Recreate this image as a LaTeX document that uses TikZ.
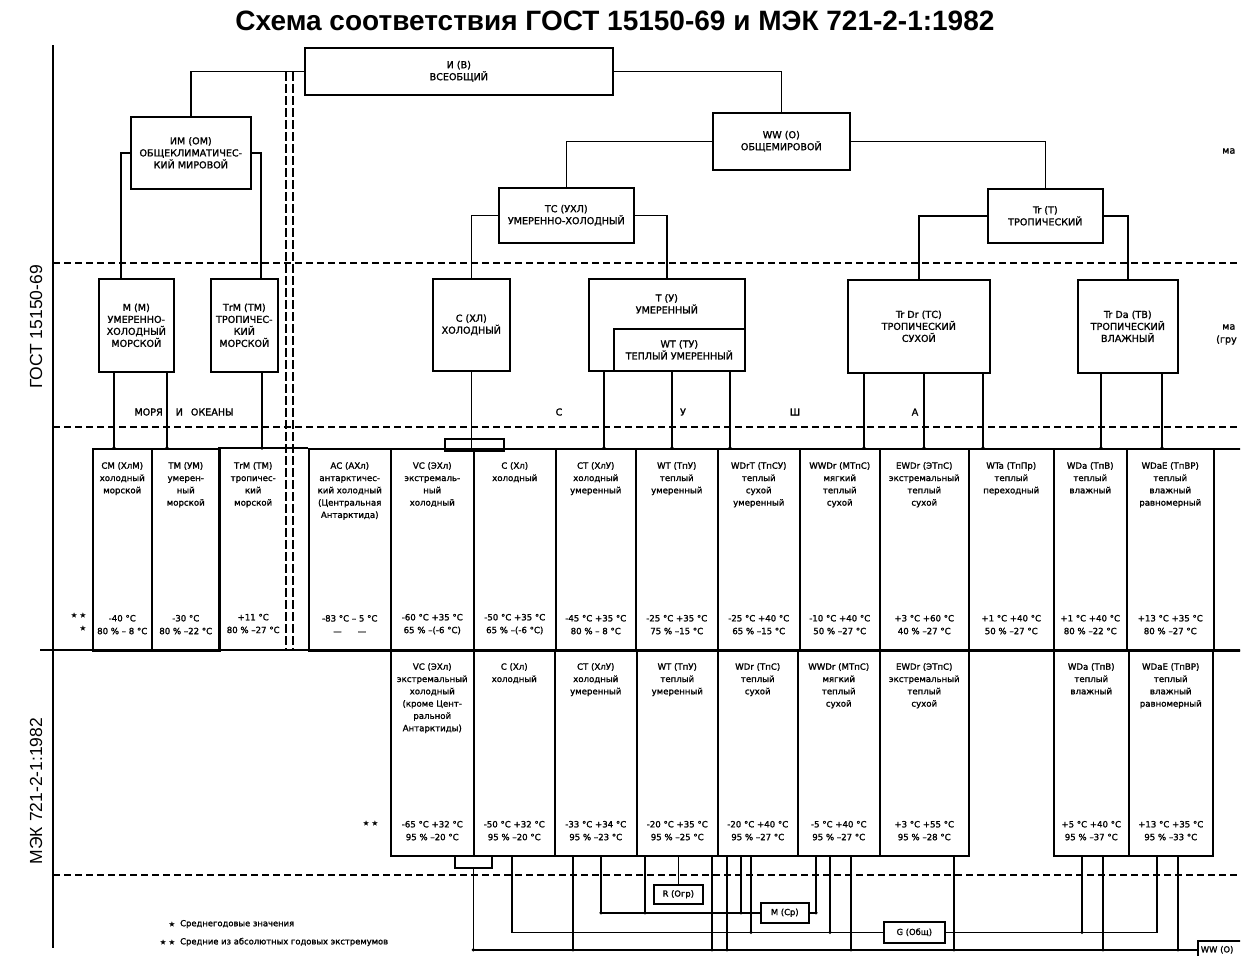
\documentclass[tikz,border=0pt]{standalone}
\usepackage{fontspec}
\setmainfont{DejaVu Sans}[FakeBold=1.5]
\newfontfamily\arialfont{Liberation Sans}
\tikzset{
  box/.style={draw, line width=1.6pt, anchor=north west, inner sep=1pt, align=center,
    font=\fontsize{9.6}{12}\selectfont},
  tinybox/.style={box, font=\fontsize{8.4}{10}\selectfont},
  cellbox/.style={draw, line width=1.5pt, anchor=north west, inner sep=0pt},
  cellbare/.style={anchor=north west, inner sep=0pt},
  cellhead/.style={anchor=north, inner sep=0pt, align=center, font=\fontsize{8.6}{12.3}\selectfont},
  cellval/.style={anchor=south, inner sep=0pt, align=center, font=\fontsize{8.6}{12.8}\selectfont},
  tag/.style={inner sep=0pt, font=\fontsize{9.6}{12}\selectfont},
  starmark/.style={inner sep=0pt, font=\fontsize{6.5}{8}\selectfont},
  wire/.style={line width=1.5pt},
  frame/.style={line width=1.5pt},
  sepdash/.style={line width=1.1pt, dash pattern=on 7pt off 4pt},
  vdash/.style={line width=1.2pt, dash pattern=on 9pt off 3pt},
}

\begin{document}
\begin{tikzpicture}[x=1pt, y=-1pt]
\useasboundingbox (0,0) rectangle (1251,956);
\clip (0,0) rectangle (1240,956);

% title and side captions
\node[font=\arialfont\bfseries\fontsize{28}{32}\selectfont] (title) at (615,21) {Схема соответствия ГОСТ 15150-69 и МЭК 721-2-1:1982};
\node[rotate=90, font=\arialfont\fontsize{17.5}{20}\selectfont] (gost) at (36,327) {ГОСТ 15150-69};
\node[rotate=90, font=\arialfont\fontsize{17.5}{20}\selectfont] (mek) at (36,791) {МЭК 721-2-1:1982};

% frame lines
\draw[frame] (53,45) -- (53,948);
\draw[frame] (40,650) -- (1251,650);
\foreach \yy in {263,427,875}
  \draw[sepdash] (53,\yy) -- (1251,\yy);
\draw[vdash] (286,72) -- (286,650);
\draw[vdash] (293,72) -- (293,650);

% classification boxes (GOST)
\node[box, minimum width=308pt, minimum height=47pt] (iv) at (304,47) {И (В)\\ВСЕОБЩИЙ};
\node[box, minimum width=120pt, minimum height=72pt] (im) at (130,116) {ИМ (ОМ)\\ОБЩЕКЛИМАТИЧЕС-\\КИЙ МИРОВОЙ};
\node[box, minimum width=137pt, minimum height=57pt] (ww) at (712,112) {WW (O)\\ОБЩЕМИРОВОЙ};
\node[box, minimum width=135pt, minimum height=55pt] (tc) at (498,187) {ТС (УХЛ)\\УМЕРЕННО-ХОЛОДНЫЙ};
\node[box, minimum width=115pt, minimum height=54pt] (tr) at (987,188) {Tr (T)\\ТРОПИЧЕСКИЙ};
\node[box, minimum width=75pt, minimum height=93pt] (mm) at (98,278) {М (М)\\УМЕРЕННО-\\ХОЛОДНЫЙ\\МОРСКОЙ};
\node[box, minimum width=67pt, minimum height=93pt] (trm) at (210,278) {ТrМ (ТМ)\\ТРОПИЧЕС-\\КИЙ\\МОРСКОЙ};
\node[box, minimum width=77pt, minimum height=92pt] (cxl) at (432,278) {С (ХЛ)\\ХОЛОДНЫЙ};
\node[box, minimum width=156pt, minimum height=92pt] (tu) at (588,278) {};
\node[tag, anchor=north, align=center] (tutxt) at ([yshift=-16pt]tu.north) {Т (У)\\УМЕРЕННЫЙ};
\node[box, minimum width=131pt, minimum height=42pt] (wt) at (613,328) {WT (ТУ)\\ТЕПЛЫЙ УМЕРЕННЫЙ};
\node[box, minimum width=142pt, minimum height=93pt] (trdr) at (847,279) {Tr Dr (ТС)\\ТРОПИЧЕСКИЙ\\СУХОЙ};
\node[box, minimum width=100pt, minimum height=93pt] (trda) at (1077,279) {Tr Da (ТВ)\\ТРОПИЧЕСКИЙ\\ВЛАЖНЫЙ};
\node[tag, anchor=west] (frag1) at (1222,151) {ма};
\node[tag, anchor=west] (frag2) at (1222,327) {ма};
\node[tag, anchor=west] (frag3) at (1216,340) {(гру};

\draw[wire] (iv.west) -| (im.north);
\draw[wire] (iv.east) -| (ww.north);
\draw[wire] (im.west) -| ([xshift=23pt]mm.north west);
\draw[wire] (im.east) -| ([xshift=51pt]trm.north west);
\draw[wire] (ww.west) -| (tc.north);
\draw[wire] (ww.east) -| (tr.north);
\draw[wire] (tc.west) -| (cxl.north);
\draw[wire] (tc.east) -| (tu.north);
\draw[wire] (tr.west) -| (trdr.north);
\draw[wire] (tr.east) -| (trda.north);

% zone letters
\node[tag] (seas) at (184,412) {МОРЯ\hspace{13pt}И\hspace{8pt}ОКЕАНЫ};
\node[tag] (zs) at (559,412) {С};
\node[tag] (zu) at (683,412) {У};
\node[tag] (zsh) at (795,412) {Ш};
\node[tag] (za) at (915,412) {А};

% GOST table
\foreach \nm/\xl/\cw/\ctxt/\cval in {
  g1/92/59/{СМ (ХлМ)\\холодный\\морской}/{-40 °С\\80 \% – 8 °С},
  g2/151/68/{ТМ (УМ)\\умерен-\\ный\\морской}/{-30 °С\\80 \% –22 °С},
  g4/308/82/{АС (АХл)\\антарктичес-\\кий холодный\\(Центральная\\Антарктида)}/{-83 °С – 5 °С\\—\hspace{16pt}—},
  g5/390/83/{VC (ЭХл)\\экстремаль-\\ный\\холодный}/{-60 °С +35 °С\\65 \% –(-6 °С)},
  g6/473/82/{С (Хл)\\холодный}/{-50 °С +35 °С\\65 \% –(-6 °С)},
  g7/555/80/{СТ (ХлУ)\\холодный\\умеренный}/{-45 °С +35 °С\\80 \% – 8 °С},
  g8/635/82/{WT (ТпУ)\\теплый\\умеренный}/{-25 °С +35 °С\\75 \% –15 °С},
  g9/717/82/{WDrT (ТпСУ)\\теплый\\сухой\\умеренный}/{-25 °С +40 °С\\65 \% –15 °С},
  g10/799/80/{WWDr (МТпС)\\мягкий\\теплый\\сухой}/{-10 °С +40 °С\\50 \% –27 °С},
  g11/879/89/{EWDr (ЭТпС)\\экстремальный\\теплый\\сухой}/{+3 °С +60 °С\\40 \% –27 °С},
  g12/968/85/{WTa (ТпПр)\\теплый\\переходный}/{+1 °С +40 °С\\50 \% –27 °С},
  g13/1053/73/{WDa (ТпВ)\\теплый\\влажный}/{+1 °С +40 °С\\80 \% –22 °С},
  g14/1126/87/{WDaE (ТпВР)\\теплый\\влажный\\равномерный}/{+13 °С +35 °С\\80 \% –27 °С},
  g15/1213/50/{}/{}}{
  \node[cellbox, minimum width=\cw pt, minimum height=202pt] (\nm) at (\xl,448) {};
  \node[cellhead] (\nm-h) at ([yshift=-14pt]\nm.north) {\ctxt};
  \node[cellval] (\nm-v) at ([yshift=17pt]\nm.south) {\cval};
}
\node[cellbare, minimum width=68pt, minimum height=202pt] (g3) at (219,448) {};
\draw[frame] (g3.north east) -- (g3.north west) -- (g3.south west) -- (g3.south east);
\draw[frame] (g3.north east) -- (g4.north west);
\node[cellhead] (g3-h) at ([yshift=-14pt]g3.north) {ТrМ (ТМ)\\тропичес-\\кий\\морской};
\node[cellval] (g3-v) at ([yshift=17pt]g3.south) {+11 °С\\80 \% –27 °С};
\node[box, minimum width=59pt, minimum height=12pt] (brk1) at (444,438) {};
\node[starmark, anchor=east] (st1) at (86,615) {★\hspace{3pt}★};
\node[starmark, anchor=east] (st2) at (86,628) {★};

\draw[wire] (cxl.south) -- (cxl.south |- g5.north);
\foreach \bx/\dx/\cl in {mm/16/g1, mm/69/g2, trm/52/g3, tu/16/g7, tu/84/g8, tu/142/g9,
    trdr/17/g10, trdr/77/g11, trdr/136/g12, trda/24/g13, trda/85/g14}{
  \draw[wire] ([xshift=\dx pt]\bx.south west) coordinate (s) -- (s |- \cl.north);
  \fill (s |- \cl.north) circle[radius=1.8pt];
}

% IEC table
\foreach \nm/\xl/\cw/\ctxt/\cval in {
  m1/390/83/{VC (ЭХл)\\экстремальный\\холодный\\(кроме Цент-\\ральной\\Антарктиды)}/{-65 °С +32 °С\\95 \% –20 °С},
  m2/473/81/{С (Хл)\\холодный}/{-50 °С +32 °С\\95 \% –20 °С},
  m3/554/82/{СТ (ХлУ)\\холодный\\умеренный}/{-33 °С +34 °С\\95 \% –23 °С},
  m4/636/81/{WT (ТпУ)\\теплый\\умеренный}/{-20 °С +35 °С\\95 \% –25 °С},
  m5/717/80/{WDr (ТпС)\\теплый\\сухой}/{-20 °С +40 °С\\95 \% –27 °С},
  m6/797/82/{WWDr (МТпС)\\мягкий\\теплый\\сухой}/{-5 °С +40 °С\\95 \% –27 °С},
  m7/879/89/{EWDr (ЭТпС)\\экстремальный\\теплый\\сухой}/{+3 °С +55 °С\\95 \% –28 °С},
  m8/1053/75/{WDa (ТпВ)\\теплый\\влажный}/{+5 °С +40 °С\\95 \% –37 °С},
  m9/1128/84/{WDaE (ТпВР)\\теплый\\влажный\\равномерный}/{+13 °С +35 °С\\95 \% –33 °С}}{
  \node[cellbox, minimum width=\cw pt, minimum height=205pt] (\nm) at (\xl,650) {};
  \node[cellhead] (\nm-h) at ([yshift=-13pt]\nm.north) {\ctxt};
  \node[cellval] (\nm-v) at ([yshift=16pt]\nm.south) {\cval};
}
\node[starmark, anchor=east] (st3) at (378,823) {★\hspace{3pt}★};

% IEC groups
\node[box, minimum width=37pt, minimum height=12pt] (brk2) at (454,855) {};
\node[tinybox, minimum width=49pt, minimum height=19pt] (rb) at (653,884) {R (Огр)};
\node[tinybox, minimum width=48pt, minimum height=20pt] (mb) at (760,902) {М (Ср)};
\node[tinybox, minimum width=61pt, minimum height=21pt] (gb) at (883,921) {G (Общ)};
\node[tinybox, minimum width=70pt, minimum height=18pt, align=left, text width=64pt] (wwb) at (1197,940) {WW (O)};

\draw[wire] (brk2.south) |- (wwb.west);
\draw[wire] ([xshift=39pt]m2.south west) |- (gb.west);
\draw[wire] ([xshift=47pt]m3.south west) coordinate (c1) |- (mb.west);
\draw[wire] ([xshift=19pt]m6.south west) coordinate (c2) |- (mb.east);
\draw[wire] ([xshift=29pt]m9.south west) |- (gb.east);
\draw[wire] (rb.north |- m4.south) -- (rb.north);
\fill (brk2.south |- wwb.west) circle[radius=1.8pt];
\fill (c1 |- mb.west) circle[radius=1.8pt];
\fill (c2 |- mb.east) circle[radius=1.8pt];
\foreach \cl/\dx/\tg in {m3/19/wwb, m4/9/mb, m4/76/wwb, m5/10/wwb, m5/24/mb, m5/34/gb,
    m6/33/gb, m6/54/wwb, m7/75/wwb, m8/29/gb, m8/50/wwb, m9/50/wwb}{
  \draw[wire] ([xshift=\dx pt]\cl.south west) coordinate (s) -- (s |- \tg.west);
  \fill (s |- \tg.west) circle[radius=1.8pt];
}

% legend
\node[starmark, anchor=east] (st4) at (175,924) {★};
\node[tag, anchor=west, font=\fontsize{8.4}{10}\selectfont] (leg1) at (180,924) {Среднегодовые значения};
\node[starmark, anchor=east] (st5) at (175,942) {★\hspace{3pt}★};
\node[tag, anchor=west, font=\fontsize{8.4}{10}\selectfont] (leg2) at (180,942) {Средние из абсолютных годовых экстремумов};
\end{tikzpicture}
\end{document}
